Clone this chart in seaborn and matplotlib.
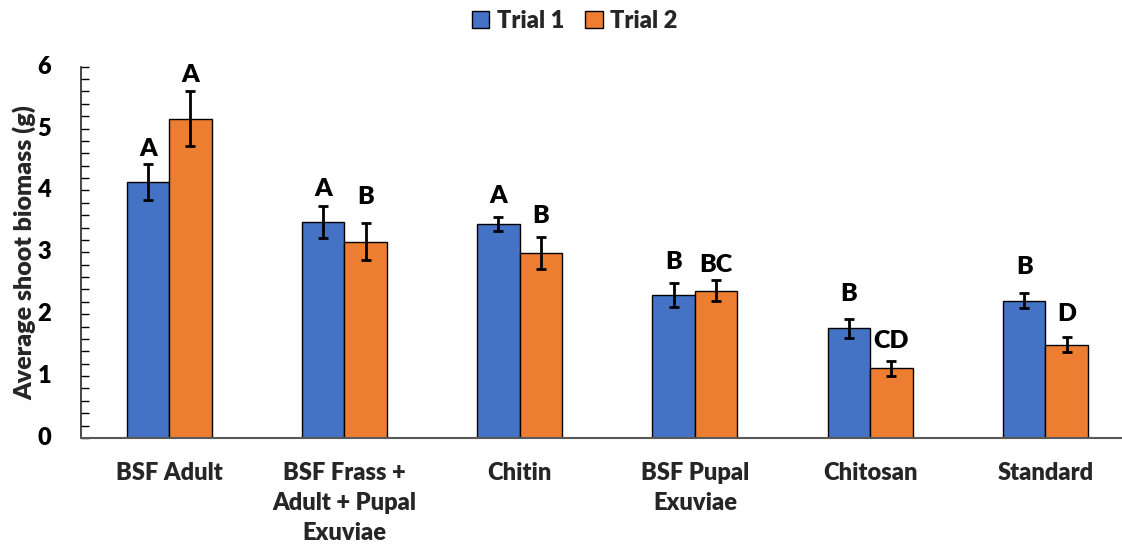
import matplotlib
matplotlib.use("Agg")
import matplotlib.pyplot as plt
from matplotlib.patches import Patch
from matplotlib.ticker import MultipleLocator
import numpy as np
import pandas as pd
import seaborn as sns

# Shoot biomass per amendment, two trials
treatments = ["BSF Adult", "BSF Frass +\nAdult + Pupal\nExuviae", "Chitin",
              "BSF Pupal\nExuviae", "Chitosan", "Standard"]
trial1_mean = [4.14, 3.49, 3.46, 2.31, 1.77, 2.22]
trial2_mean = [5.16, 3.17, 2.99, 2.38, 1.13, 1.51]
trial1_err = [0.29, 0.26, 0.11, 0.20, 0.15, 0.12]
trial2_err = [0.44, 0.30, 0.26, 0.17, 0.12, 0.12]
trial1_letters = ["A", "A", "A", "B", "B", "B"]
trial2_letters = ["A", "B", "B", "BC", "CD", "D"]
trials = ["Trial 1", "Trial 2"]
y_ticks = [0, 1, 2, 3, 4, 5, 6]

# gap (in points) between each error-bar top and its letter
trial1_gap = [3, 4, 7, 7, 10, 11]
trial2_gap = [4, 11, 7, 3, 6, 9]

colors = ["#4472C4", "#ED7D31"]

df = pd.DataFrame({
    "treatment": treatments * 2,
    "trial": [trials[0]] * 6 + [trials[1]] * 6,
    "biomass": trial1_mean + trial2_mean,
})

sns.set_theme(style="white")
plt.rcParams["font.family"] = ["Lato", "DejaVu Sans"]
plt.rcParams["font.weight"] = "heavy"
W = "heavy"

fig = plt.figure(figsize=(11.22, 5.46), dpi=100)
ax = fig.add_axes([0.0726, 0.1978, 0.9274, 0.68])

sns.barplot(data=df, x="treatment", y="biomass", hue="trial",
            palette=colors, width=0.484, errorbar=None,
            edgecolor="black", linewidth=1.0, saturation=1.0,
            ax=ax, legend=False)

errs = [trial1_err, trial2_err]
letters = [trial1_letters, trial2_letters]
gaps = [trial1_gap, trial2_gap]
for k, cont in enumerate(ax.containers[:2]):
    for i, bar in enumerate(cont.patches):
        xc = bar.get_x() + bar.get_width() / 2
        h = bar.get_height()
        ax.errorbar(xc, h, yerr=errs[k][i], fmt="none", ecolor="black",
                    elinewidth=2, capsize=3.5, capthick=2, zorder=5)
        ax.annotate(letters[k][i], (xc, h + errs[k][i]),
                    xytext=(0, gaps[k][i]), textcoords="offset points",
                    ha="center", va="bottom", fontsize=18, fontweight=W,
                    color="black")

ax.set_ylim(0, 6)
ax.set_xlim(-0.5, 5.437)
ax.set_yticks(y_ticks)
ax.yaxis.set_minor_locator(MultipleLocator(0.2))
ax.tick_params(axis="y", which="both", direction="in", length=6, width=1,
               color="black", left=True, labelleft=False)
ax.tick_params(axis="x", which="both", bottom=False, labelsize=17, pad=11)
for lab in ax.get_xticklabels():
    lab.set_fontweight(W)
    lab.set_linespacing(1.45)
    lab.set_va("top")

# y values written well to the left of the axis line
ytrans = ax.get_yaxis_transform()
for v in y_ticks:
    ax.text(-0.029, v, f"{v:g}", transform=ytrans, ha="right", va="center",
            fontsize=17, fontweight=W, color="black", clip_on=False)

ax.set_xlabel("")
ax.set_ylabel("Average shoot biomass (g)", fontsize=18, fontweight=W)
ax.yaxis.set_label_coords(-0.043, 0.5)

for side in ["top", "right"]:
    ax.spines[side].set_visible(False)
ax.spines["left"].set_color("#262626")
ax.spines["left"].set_linewidth(1.2)
ax.spines["bottom"].set_color("#595959")
ax.spines["bottom"].set_linewidth(1.5)

handles = [Patch(facecolor=c, edgecolor="black", linewidth=1.0) for c in colors]
fig.legend(handles, trials, loc="center", bbox_to_anchor=(0.512, 0.962),
           ncol=2, frameon=False, handlelength=0.75,
           handleheight=0.75, handletextpad=0.3, columnspacing=0.9,
           prop={"weight": W, "size": 17})

fig.savefig("out.png", dpi=100, facecolor="white")
